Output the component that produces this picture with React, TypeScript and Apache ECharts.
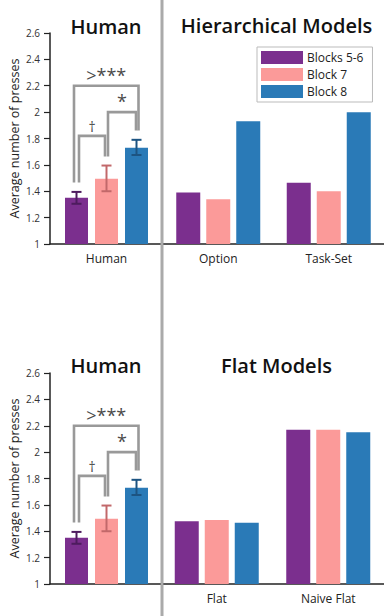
import React, { useEffect, useRef } from "react";
import * as echarts from "echarts";

const seriesNames = ["Blocks 5-6", "Block 7", "Block 8"];
const seriesColors = ["#7B2F8E", "#FB9A99", "#2A7AB7"];
const errorColors = ["#4E1C5E", "#C2686A", "#1D5482"];

const humanCategories = ["Human"];
const humanMeans = [1.35, 1.495, 1.73];
const humanLower = [1.305, 1.4, 1.675];
const humanUpper = [1.395, 1.595, 1.79];

const hierCategories = ["Option", "Task-Set"];
const hierBlocks56 = [1.39, 1.465];
const hierBlock7 = [1.34, 1.4];
const hierBlock8 = [1.93, 2.0];

const flatCategories = ["Flat", "Naive Flat"];
const flatBlocks56 = [1.475, 2.17];
const flatBlock7 = [1.485, 2.17];
const flatBlock8 = [1.465, 2.15];

const yMin = 1;
const yMax = 2.6;
const yInterval = 0.2;

// significance brackets: bar indices, top value, leg end values, label
const bracketFrom = [0, 0, 1];
const bracketTo = [2, 1, 2];
const bracketTop = [2.2, 1.82, 2.0];
const bracketLeftEnd = [1.467, 1.467, 1.664];
const bracketRightEnd = [1.86, 1.664, 1.86];
const bracketLabels = [">***", "†", "*"];

const FONT = "Open Sans";
const HUMAN_BAR_W = 23;
const HUMAN_BAR_GAP = 7;
const HIER_BAR_W = 24;
const legShift = [
  [-2.5, 2],
  [2.5, -1.5],
  [1.5, -0.5],
];

function makeXAxis(gridIndex: number, data: string[], showLabel: boolean) {
  return {
    type: "category",
    gridIndex,
    data,
    axisLine: { lineStyle: { color: "#222", width: 1.5 } },
    axisTick: { alignWithLabel: true, length: 4, lineStyle: { color: "#222", width: 1.2 } },
    axisLabel: { show: showLabel, fontSize: 12, color: "#222", margin: 8, fontFamily: FONT },
  };
}

function makeYAxis(gridIndex: number, show: boolean) {
  return {
    type: "value",
    gridIndex,
    min: yMin,
    max: yMax,
    interval: yInterval,
    show,
    name: show ? "Average number of presses" : "",
    nameLocation: "middle",
    nameGap: 29,
    nameTextStyle: { fontSize: 12.5, color: "#222", fontFamily: FONT },
    axisLine: { show: true, lineStyle: { color: "#222", width: 1.5 } },
    axisTick: { show: true, length: 6, lineStyle: { color: "#222", width: 1.2 } },
    axisLabel: { fontSize: 10, color: "#333", margin: 10, fontFamily: FONT },
    splitLine: { show: false },
  };
}

function humanBars(xi: number) {
  return seriesNames.map((name, i) => ({
    type: "bar",
    name,
    xAxisIndex: xi,
    yAxisIndex: xi,
    data: [humanMeans[i]],
    barWidth: HUMAN_BAR_W,
    barGap: (HUMAN_BAR_GAP / HUMAN_BAR_W) * 100 + "%",
    itemStyle: { color: seriesColors[i] },
  }));
}

function modelBars(xi: number, values: number[][]) {
  return seriesNames.map((name, i) => ({
    type: "bar",
    name,
    xAxisIndex: xi,
    yAxisIndex: xi,
    data: values[i],
    barWidth: HIER_BAR_W,
    barGap: "25%",
    itemStyle: { color: seriesColors[i] },
  }));
}

function errorSeries(xi: number) {
  return {
    type: "custom",
    xAxisIndex: xi,
    yAxisIndex: xi,
    silent: true,
    z: 5,
    encode: { x: 0, y: [1, 2] },
    data: humanMeans.map((_, i) => [0, humanLower[i], humanUpper[i], i]),
    renderItem: (params: any, api: any) => {
      const idx = api.value(3);
      const lo = api.coord([api.value(0), api.value(1)]);
      const hi = api.coord([api.value(0), api.value(2)]);
      const x = lo[0] + (idx - 1) * (HUMAN_BAR_W + HUMAN_BAR_GAP);
      const cap = 5;
      const style = { stroke: errorColors[idx], lineWidth: 2 };
      return {
        type: "group",
        children: [
          { type: "line", shape: { x1: x, y1: lo[1], x2: x, y2: hi[1] }, style },
          { type: "line", shape: { x1: x - cap, y1: lo[1], x2: x + cap, y2: lo[1] }, style },
          { type: "line", shape: { x1: x - cap, y1: hi[1], x2: x + cap, y2: hi[1] }, style },
        ],
      };
    },
  };
}

function bracketSeries(xi: number) {
  return {
    type: "custom",
    xAxisIndex: xi,
    yAxisIndex: xi,
    silent: true,
    z: 6,
    encode: { x: 0, y: [3] },
    data: bracketLabels.map((_, i) => [0, bracketFrom[i], bracketTo[i], bracketTop[i], bracketLeftEnd[i], bracketRightEnd[i], i]),
    renderItem: (params: any, api: any) => {
      const k = api.value(6);
      const step = HUMAN_BAR_W + HUMAN_BAR_GAP;
      const topPt = api.coord([api.value(0), api.value(3)]);
      const lPt = api.coord([api.value(0), api.value(4)]);
      const rPt = api.coord([api.value(0), api.value(5)]);
      const xl = topPt[0] + (api.value(1) - 1) * step + legShift[k][0];
      const xr = topPt[0] + (api.value(2) - 1) * step + legShift[k][1];
      const label = bracketLabels[k];
      const isStar = label !== "†";
      return {
        type: "group",
        children: [
          {
            type: "polyline",
            shape: { points: [[xl, lPt[1]], [xl, topPt[1]], [xr, topPt[1]], [xr, rPt[1]]] },
            style: { stroke: "#999", lineWidth: 2.6, fill: null },
          },
          {
            type: "text",
            style: {
              text: label,
              x: (xl + xr) / 2,
              y: topPt[1] + (isStar ? -2 : -2),
              align: "center",
              verticalAlign: "bottom",
              textAlign: "center",
              textVerticalAlign: "bottom",
              fill: "#4a4a4a",
              fontFamily: FONT,
              fontSize: isStar ? 18 : 14,
            },
          },
        ],
      };
    },
  };
}

export default function App() {
  const ref = useRef<HTMLDivElement>(null);
  useEffect(() => {
    if (!ref.current) return;
    const chart = echarts.init(ref.current, undefined, { renderer: "svg" });
    const titleStyle = { fontSize: 20, fontWeight: 600, fill: "#111", fontFamily: FONT };
    chart.setOption({
      animation: false,
      backgroundColor: "#fff",
      textStyle: { fontFamily: FONT },
      grid: [
        { left: 50, top: 33, width: 113, height: 211 },
        { left: 163, top: 33, width: 225, height: 211 },
        { left: 50, top: 373, width: 113, height: 211 },
        { left: 161, top: 373, width: 224, height: 211 },
      ],
      xAxis: [
        makeXAxis(0, humanCategories, true),
        makeXAxis(1, hierCategories, true),
        makeXAxis(2, humanCategories, false),
        makeXAxis(3, flatCategories, true),
      ],
      yAxis: [makeYAxis(0, true), makeYAxis(1, false), makeYAxis(2, true), makeYAxis(3, false)],
      legend: {
        data: seriesNames,
        orient: "vertical",
        left: 257,
        top: 47,
        itemWidth: 42,
        itemHeight: 13,
        itemGap: 4,
        padding: [4, 9, 4, 4],
        borderColor: "#bbb",
        borderWidth: 1,
        icon: "rect",
        textStyle: { fontSize: 12, color: "#222", fontFamily: FONT, padding: [0, 0, 0, -1] },
      },
      graphic: [
        { type: "line", shape: { x1: 162, y1: 0, x2: 162, y2: 616 }, style: { stroke: "#aaa", lineWidth: 3 }, z: 100 },
        { type: "text", x: 106, y: 26, style: { ...titleStyle, text: "Human", textAlign: "center", textVerticalAlign: "middle" } },
        { type: "text", x: 276.5, y: 25, style: { ...titleStyle, text: "Hierarchical Models", textAlign: "center", textVerticalAlign: "middle" } },
        { type: "text", x: 106, y: 365, style: { ...titleStyle, text: "Human", textAlign: "center", textVerticalAlign: "middle" } },
        { type: "text", x: 276.5, y: 365, style: { ...titleStyle, text: "Flat Models", textAlign: "center", textVerticalAlign: "middle" } },
      ],
      series: [
        ...humanBars(0),
        errorSeries(0),
        bracketSeries(0),
        ...modelBars(1, [hierBlocks56, hierBlock7, hierBlock8]),
        ...humanBars(2),
        errorSeries(2),
        bracketSeries(2),
        ...modelBars(3, [flatBlocks56, flatBlock7, flatBlock8]),
      ],
    });
    return () => chart.dispose();
  }, []);
  return <div ref={ref} style={{ position: "fixed", left: 0, top: 0, width: 384, height: 616 }} />;
}
